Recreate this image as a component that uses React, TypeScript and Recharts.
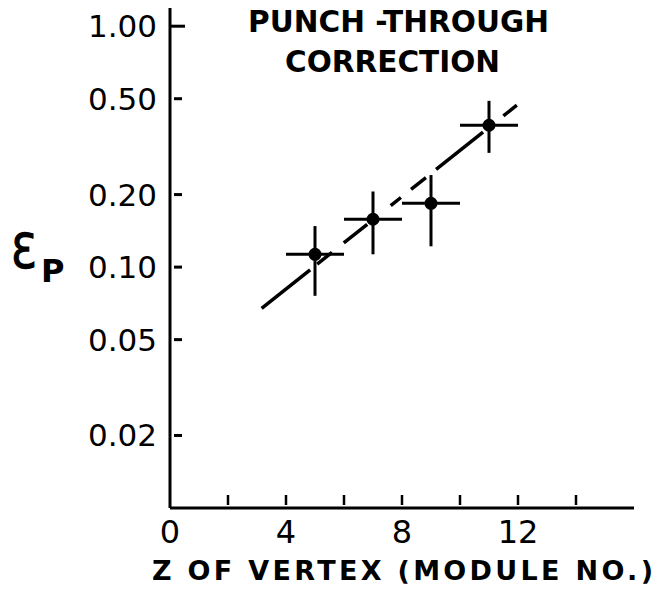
import React from "react";
import { ComposedChart, Scatter, XAxis, YAxis, ErrorBar, Customized } from "recharts";

// ---- data ----
const zValues = [5, 7, 9, 11];
const epsValues = [0.113, 0.158, 0.184, 0.388];
const epsErrMinus = [0.037, 0.045, 0.062, 0.09];
const epsErrPlus = [0.035, 0.048, 0.057, 0.102];
const zErrMinus = [1, 1, 1, 1];
const zErrPlus = [1, 1, 1, 1];

const fitZ = [3.16, 11.96];
const fitEps = [0.0674, 0.47];

const yTicks = [0.02, 0.05, 0.1, 0.2, 0.5, 1.0];
const yTickLabels = ["0.02", "0.05", "0.10", "0.20", "0.50", "1.00"];
const xTicks = [0, 2, 4, 6, 8, 10, 12, 14];
const xTickLabels = ["0", "", "4", "", "8", "", "12", ""];

const titleLines = ["PUNCH -THROUGH", "CORRECTION"];
const xAxisTitle = "Z OF VERTEX (MODULE NO.)";
const yAxisSymbol = "Ɛ";
const yAxisSubscript = "P";

const points = zValues.map((z, i) => ({
  z,
  eps: epsValues[i],
  epsErr: [epsErrMinus[i], epsErrPlus[i]],
  zErr: [zErrMinus[i], zErrPlus[i]],
}));
const fitData = fitZ.map((z, i) => ({ z, eps: fitEps[i] }));

const FONT = "DejaVu Sans";

const YTick = (props: any) => {
  const { x, y, payload } = props;
  const i = yTicks.indexOf(payload.value);
  const axisX = Number(x) + 13;
  const isTop = payload.value === 1;
  return (
    <g>
      <rect
        x={axisX + (isTop ? 0 : 4)}
        y={Number(y) - 1.5}
        width={isTop ? 15 : 8}
        height={3}
        fill="#000"
      />
      <text x={x} y={Number(y) + 11} textAnchor="end" fontSize={31} fontFamily={FONT} fill="#000">
        {yTickLabels[i]}
      </text>
    </g>
  );
};

const XTick = (props: any) => {
  const { x, y, payload } = props;
  const i = xTicks.indexOf(payload.value);
  return (
    <g>
      {payload.value > 0 && (
        <line x1={x} x2={x} y1={y - 13} y2={y - 3} stroke="#000" strokeWidth={2.5} />
      )}
      {xTickLabels[i] && (
        <text x={x} y={y + 35} textAnchor="middle" fontSize={32} fontFamily={FONT} fill="#000">
          {xTickLabels[i]}
        </text>
      )}
    </g>
  );
};

const Dot = (props: any) => <circle cx={props.cx} cy={props.cy} r={6.5} fill="#000" />;
const NoDot = () => <g />;

const Texts = () => (
  <g fontFamily={FONT} fill="#000">
    <text x={248} y={32} fontSize={30} fontWeight="bold" textLength={301} lengthAdjust="spacingAndGlyphs">
      {titleLines[0]}
    </text>
    <text x={285} y={72} fontSize={30} fontWeight="bold" textLength={215} lengthAdjust="spacingAndGlyphs">
      {titleLines[1]}
    </text>
    <text x={152} y={580} fontSize={27} fontWeight="bold" textLength={501} lengthAdjust="spacing">
      {xAxisTitle}
    </text>
    <text
      x={11}
      y={268}
      fontSize={48}
      textLength={25}
      lengthAdjust="spacingAndGlyphs"
      stroke="#000"
      strokeWidth={1.3}
    >
      {yAxisSymbol}
    </text>
    <text x={41} y={282} fontSize={32} fontWeight="bold">
      {yAxisSubscript}
    </text>
  </g>
);

export default function App() {
  return (
    <div style={{ position: "absolute", left: 0, top: 0, width: 659, height: 597, background: "#fff" }}>
      <ComposedChart width={659} height={597} margin={{ top: 8, right: 25, bottom: 0, left: 0 }}>
        <XAxis
          type="number"
          dataKey="z"
          domain={[0, 16]}
          ticks={xTicks}
          interval={0}
          tick={XTick}
          tickLine={false}
          tickSize={0}
          tickMargin={0}
          axisLine={{ stroke: "#000", strokeWidth: 3 }}
          height={89}
          allowDataOverflow
        />
        <YAxis
          type="number"
          dataKey="eps"
          scale="log"
          domain={[0.01, 1.19]}
          ticks={yTicks}
          interval={0}
          tick={YTick}
          tickLine={false}
          tickSize={0}
          tickMargin={13}
          axisLine={{ stroke: "#000", strokeWidth: 3 }}
          width={170}
          allowDataOverflow
        />
        <Scatter
          data={fitData}
          fill="#000"
          shape={NoDot}
          line={{ stroke: "#000", strokeWidth: 3.5, strokeDasharray: "62 9 19 15 30 30 13 13 19 13 60 26 19" }}
          isAnimationActive={false}
        />
        <Scatter data={points} fill="#000" shape={Dot} isAnimationActive={false}>
          <ErrorBar dataKey="zErr" direction="x" width={0} stroke="#000" strokeWidth={3} isAnimationActive={false} />
          <ErrorBar dataKey="epsErr" direction="y" width={0} stroke="#000" strokeWidth={3} isAnimationActive={false} />
        </Scatter>
        <Customized component={Texts} />
      </ComposedChart>
    </div>
  );
}
